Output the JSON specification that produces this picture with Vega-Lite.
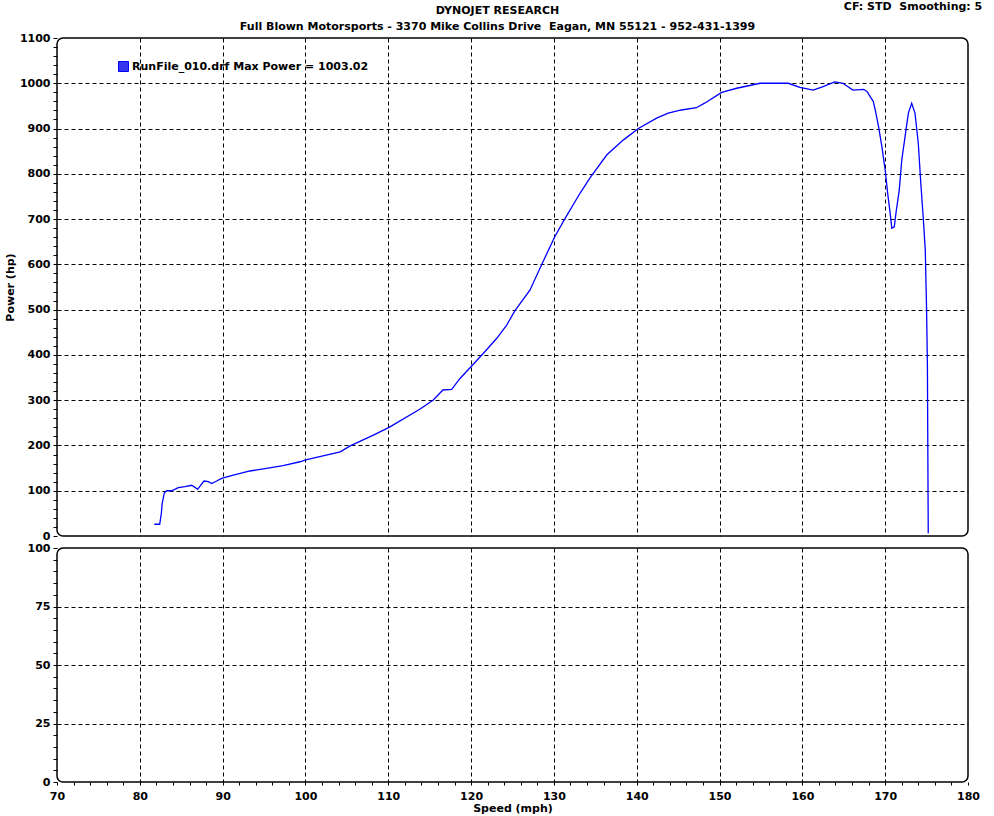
{
  "$schema": "https://vega.github.io/schema/vega-lite/v6.json",
  "background": "white",
  "padding": {"left": 3, "top": 1, "right": 8, "bottom": 2},
  "title": {"text": "CF: STD\u00a0\u00a0Smoothing: 5", "anchor": "end", "dx": 2, "offset": -8, "font": "DejaVu Sans", "fontSize": 11, "fontWeight": "bold", "color": "black"},
  "spacing": 12,
  "bounds": "flush",
  "config": {
    "font": "DejaVu Sans",
    "view": {"stroke": "black", "strokeWidth": 1.5, "cornerRadius": 6},
    "axis": {
      "labelFont": "DejaVu Sans", "labelFontWeight": "bold", "labelFontSize": 11, "labelColor": "black", "labelFlush": false,
      "titleFont": "DejaVu Sans", "titleFontWeight": "bold", "titleFontSize": 11, "titleColor": "black",
      "gridColor": "black", "gridDash": [4, 3], "gridWidth": 1, "tickColor": "black", "tickWidth": 1, "domain": false
    }
  },
  "datasets": {
    "power": [
      {"speed": 81.75, "power": 26}, {"speed": 82.4, "power": 26}, {"speed": 82.6, "power": 50},
      {"speed": 82.7, "power": 72}, {"speed": 82.96, "power": 95}, {"speed": 83.24, "power": 100},
      {"speed": 83.85, "power": 100}, {"speed": 84.65, "power": 106.8}, {"speed": 85.45, "power": 109},
      {"speed": 86.26, "power": 112}, {"speed": 86.66, "power": 107.5}, {"speed": 86.98, "power": 103},
      {"speed": 87.27, "power": 110}, {"speed": 87.75, "power": 121.5}, {"speed": 88.27, "power": 120},
      {"speed": 88.68, "power": 116}, {"speed": 89.28, "power": 121.5}, {"speed": 89.88, "power": 127.4},
      {"speed": 91.29, "power": 134.7}, {"speed": 93.3, "power": 143.6}, {"speed": 95.3, "power": 149.5},
      {"speed": 97.3, "power": 155.3}, {"speed": 99.34, "power": 164}, {"speed": 100.03, "power": 168},
      {"speed": 104.2, "power": 186}, {"speed": 105.4, "power": 199}, {"speed": 108.2, "power": 223},
      {"speed": 110.1, "power": 240}, {"speed": 113.8, "power": 280}, {"speed": 115.4, "power": 300},
      {"speed": 116.6, "power": 322.5}, {"speed": 117.66, "power": 324}, {"speed": 118.66, "power": 348},
      {"speed": 120.07, "power": 375.5}, {"speed": 121.9, "power": 412}, {"speed": 123.1, "power": 436.7},
      {"speed": 124.3, "power": 466}, {"speed": 125.3, "power": 497.7}, {"speed": 127.1, "power": 543},
      {"speed": 128.5, "power": 598.6}, {"speed": 130.1, "power": 661}, {"speed": 131.3, "power": 700},
      {"speed": 133.15, "power": 757}, {"speed": 134.4, "power": 792}, {"speed": 136.4, "power": 842},
      {"speed": 138.4, "power": 875}, {"speed": 140.2, "power": 900}, {"speed": 142.4, "power": 923},
      {"speed": 143.8, "power": 934}, {"speed": 145.4, "power": 941}, {"speed": 147.2, "power": 946},
      {"speed": 148.2, "power": 956}, {"speed": 150.26, "power": 980}, {"speed": 152.07, "power": 989},
      {"speed": 154.9, "power": 1000}, {"speed": 158.3, "power": 1000}, {"speed": 159.7, "power": 991},
      {"speed": 161.3, "power": 985}, {"speed": 162.5, "power": 992.5}, {"speed": 163.9, "power": 1003},
      {"speed": 164.9, "power": 1000}, {"speed": 166.1, "power": 985}, {"speed": 167.4, "power": 986.7},
      {"speed": 167.83, "power": 981.5}, {"speed": 168.2, "power": 970}, {"speed": 168.56, "power": 960},
      {"speed": 168.8, "power": 941}, {"speed": 169.2, "power": 904}, {"speed": 169.6, "power": 860},
      {"speed": 170.0, "power": 808.5}, {"speed": 170.3, "power": 757}, {"speed": 170.6, "power": 713},
      {"speed": 170.8, "power": 680}, {"speed": 171.1, "power": 683}, {"speed": 171.3, "power": 713},
      {"speed": 171.7, "power": 764}, {"speed": 172.0, "power": 830}, {"speed": 172.4, "power": 882},
      {"speed": 172.8, "power": 934}, {"speed": 173.2, "power": 956}, {"speed": 173.6, "power": 934},
      {"speed": 174.0, "power": 867}, {"speed": 174.3, "power": 779}, {"speed": 174.6, "power": 702},
      {"speed": 174.84, "power": 632}, {"speed": 175.0, "power": 499}, {"speed": 175.1, "power": 374},
      {"speed": 175.2, "power": 6}
    ]
  },
  "vconcat": [
    {
      "width": 911,
      "height": 498,
      "title": {"text": ["DYNOJET RESEARCH", "Full Blown Motorsports - 3370 Mike Collins Drive\u00a0\u00a0Eagan, MN 55121 - 952-431-1399"], "anchor": "middle", "dx": -15, "offset": 0, "lineHeight": 16, "font": "DejaVu Sans", "fontSize": 11, "fontWeight": "bold", "color": "black"},
      "data": {"name": "power"},
      "mark": {"type": "line", "color": "#0000ff", "strokeWidth": 1.3, "interpolate": "linear"},
      "encoding": {
        "x": {
          "field": "speed", "type": "quantitative",
          "scale": {"domain": [70, 180], "nice": false, "zero": false},
          "axis": {"values": [80, 90, 100, 110, 120, 130, 140, 150, 160, 170], "labels": false, "ticks": false, "title": null, "grid": true}
        },
        "y": {
          "field": "power", "type": "quantitative",
          "scale": {"domain": [0, 1100], "nice": false},
          "axis": {
            "values": [0,20,40,60,80,100,120,140,160,180,200,220,240,260,280,300,320,340,360,380,400,420,440,460,480,500,520,540,560,580,600,620,640,660,680,700,720,740,760,780,800,820,840,860,880,900,920,940,960,980,1000,1020,1040,1060,1080,1100],
            "labelExpr": "datum.value % 100 === 0 ? datum.label : ''",
            "format": "d",
            "gridOpacity": {"condition": {"test": "datum.value % 100 === 0 && datum.value > 0 && datum.value < 1100", "value": 1}, "value": 0},
            "tickSize": 4,
            "labelPadding": 3,
            "labelOverlap": false,
            "title": "Power (hp)",
            "titlePadding": 4
          }
        },
        "color": {
          "datum": "RunFile_010.drf Max Power = 1003.02",
          "type": "nominal",
          "scale": {"range": ["#0000ff"]},
          "legend": {
            "title": null, "orient": "none", "legendX": 61, "legendY": 23,
            "symbolType": "square", "symbolSize": 100, "labelLimit": 0,
            "labelFont": "DejaVu Sans", "labelFontWeight": "bold", "labelFontSize": 11, "labelColor": "black", "labelOffset": 3,
            "encode": {"symbols": {"update": {"fill": {"value": "#3535ee"}, "stroke": {"value": "black"}, "strokeWidth": {"value": 1}, "opacity": {"value": 1}, "fillOpacity": {"value": 1}}}}
          }
        }
      }
    },
    {
      "width": 911,
      "height": 234,
      "data": {"values": []},
      "mark": {"type": "line", "color": "#0000ff"},
      "encoding": {
        "x": {
          "field": "speed", "type": "quantitative",
          "scale": {"domain": [70, 180], "nice": false, "zero": false},
          "axis": {
            "values": [70,72,74,76,78,80,82,84,86,88,90,92,94,96,98,100,102,104,106,108,110,112,114,116,118,120,122,124,126,128,130,132,134,136,138,140,142,144,146,148,150,152,154,156,158,160,162,164,166,168,170,172,174,176,178,180],
            "labelExpr": "datum.value % 10 === 0 ? datum.label : ''",
            "format": "d",
            "gridOpacity": {"condition": {"test": "datum.value % 10 === 0 && datum.value > 70 && datum.value < 180", "value": 1}, "value": 0},
            "tickSize": 3,
            "labelPadding": 5,
            "labelOverlap": false,
            "title": "Speed (mph)",
            "titlePadding": 1
          }
        },
        "y": {
          "field": "power", "type": "quantitative",
          "scale": {"domain": [0, 100], "nice": false},
          "axis": {
            "values": [0,5,10,15,20,25,30,35,40,45,50,55,60,65,70,75,80,85,90,95,100],
            "labelExpr": "datum.value % 25 === 0 ? datum.label : ''",
            "format": "d",
            "gridOpacity": {"condition": {"test": "datum.value % 25 === 0 && datum.value > 0 && datum.value < 100", "value": 1}, "value": 0},
            "tickSize": 4,
            "labelPadding": 3,
            "labelOverlap": false,
            "title": null
          }
        }
      }
    }
  ]
}
